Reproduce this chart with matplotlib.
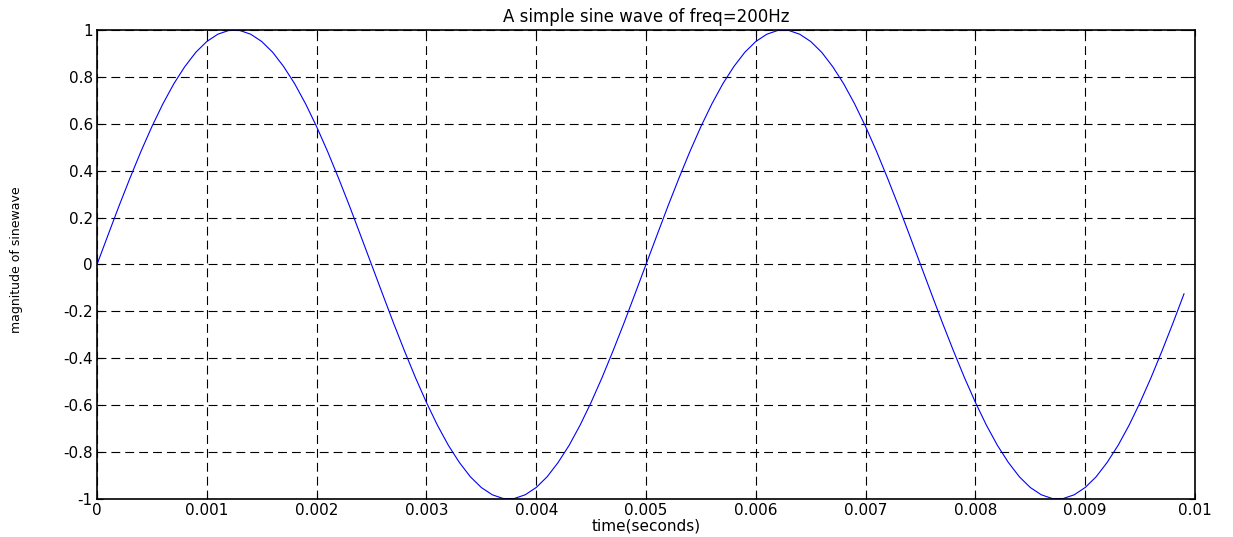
import matplotlib
matplotlib.use("Agg")
import matplotlib.pyplot as plt
import numpy as np

# time axis: samples every 0.1 ms from 0 to 0.0099 s
t = [k * 0.0001 for k in range(100)]

# one period (50 samples) of the 200 Hz wave, repeated twice
amplitude = [
    0.000, 0.125, 0.249, 0.368, 0.482, 0.588, 0.685, 0.771, 0.844, 0.905,
    0.951, 0.982, 0.998, 0.998, 0.982, 0.951, 0.905, 0.844, 0.771, 0.685,
    0.588, 0.482, 0.368, 0.249, 0.125, 0.000, -0.125, -0.249, -0.368, -0.482,
    -0.588, -0.685, -0.771, -0.844, -0.905, -0.951, -0.982, -0.998, -0.998, -0.982,
    -0.951, -0.905, -0.844, -0.771, -0.685, -0.588, -0.482, -0.368, -0.249, -0.125,
    0.000, 0.125, 0.249, 0.368, 0.482, 0.588, 0.685, 0.771, 0.844, 0.905,
    0.951, 0.982, 0.998, 0.998, 0.982, 0.951, 0.905, 0.844, 0.771, 0.685,
    0.588, 0.482, 0.368, 0.249, 0.125, 0.000, -0.125, -0.249, -0.368, -0.482,
    -0.588, -0.685, -0.771, -0.844, -0.905, -0.951, -0.982, -0.998, -0.998, -0.982,
    -0.951, -0.905, -0.844, -0.771, -0.685, -0.588, -0.482, -0.368, -0.249, -0.125,
]

x_ticks = [0, 0.001, 0.002, 0.003, 0.004, 0.005, 0.006, 0.007, 0.008, 0.009, 0.01]
x_labels = ['0', '0.001', '0.002', '0.003', '0.004', '0.005', '0.006',
            '0.007', '0.008', '0.009', '0.01']
y_ticks = [-1, -0.8, -0.6, -0.4, -0.2, 0, 0.2, 0.4, 0.6, 0.8, 1]
y_labels = ['-1', '-0.8', '-0.6', '-0.4', '-0.2', '0', '0.2', '0.4', '0.6', '0.8', '1']

plt.rcParams['font.family'] = ['DejaVu Sans']

fig = plt.figure(figsize=(12.33, 5.37), dpi=100)
ax = fig.add_axes([97 / 1233, 1 - 499 / 537, (1195 - 97) / 1233, (499 - 30) / 537])

ax.plot(t, amplitude, color='#0000ff', linewidth=0.8)

ax.set_xlim(0, 0.01)
ax.set_ylim(-1, 1)
ax.set_xticks(x_ticks)
ax.set_xticklabels(x_labels)
ax.set_yticks(y_ticks)
ax.set_yticklabels(y_labels)

ax.grid(True, color='black', linewidth=0.8, linestyle=(0, (8, 4.5)))
ax.tick_params(direction='in', length=4, width=0.8, top=True, right=True,
               labelsize=11, pad=3, colors='black')
for s in ax.spines.values():
    s.set_linewidth(1.2)

ax.set_title('A simple sine wave of freq=200Hz', fontsize=12, pad=6)
ax.set_xlabel('time(seconds)', fontsize=11, labelpad=0)
ax.set_ylabel('magnitude of sinewave', fontsize=9)
ax.yaxis.set_label_coords(-0.067, 0.51)

fig.savefig('out.png', dpi=100, facecolor='white')
plt.close(fig)
